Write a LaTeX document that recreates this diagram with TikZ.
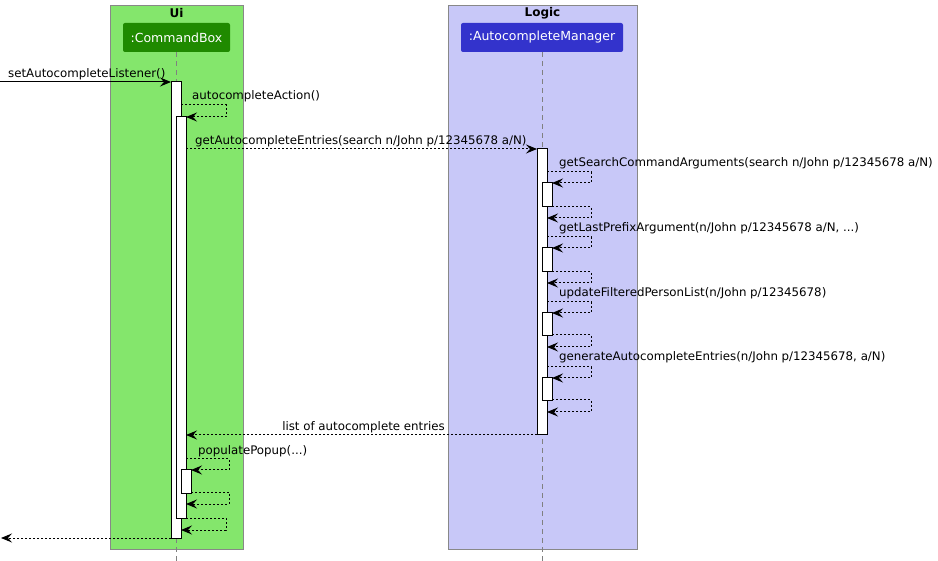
\documentclass[tikz,border=0pt]{standalone}
\usepackage{fontspec}
\setmainfont{DejaVu Sans}
\usetikzlibrary{arrows.meta}
\definecolor{uifill}{HTML}{84E66C}
\definecolor{logicfill}{HTML}{C8C8F8}
\definecolor{framegray}{HTML}{888888}
\definecolor{cbfill}{HTML}{1F8A00}
\definecolor{amfill}{HTML}{3333CC}
\begin{document}
\begin{tikzpicture}[x=1pt,y=-1pt,
  font=\fontsize{11.8}{14}\selectfont,
  frame/.style={draw=framegray,line width=0.8pt},
  frametitle/.style={font=\fontsize{12}{14}\selectfont\bfseries,anchor=center},
  participant/.style={rounded corners=2pt,text=white,font=\fontsize{12.5}{15}\selectfont,
     inner sep=0pt,minimum height=29pt},
  lifeline/.style={draw=gray,line width=0.8pt,dash pattern=on 5pt off 4pt},
  actbar/.style={draw=black,fill=white,line width=1pt},
  tip/.style={-{Stealth[length=11pt,width=9pt,inset=4pt]}},
  call/.style={tip,line width=1pt},
  reply/.style={tip,line width=1pt,dash pattern=on 2pt off 2pt},
  lbl/.style={anchor=base west,inner sep=0pt},
]
\useasboundingbox (0,0) rectangle (938,561);
\fill[white] (0,0) rectangle (938,561);

% package frames
\filldraw[frame,fill=uifill] (110,5) rectangle (243,549);
\filldraw[frame,fill=logicfill] (448,5) rectangle (637,549);
\node[frametitle] (uititle) at (176.5,13) {Ui};
\node[frametitle] (logictitle) at (542.5,13) {Logic};

% participants
\node[participant,fill=cbfill,minimum width=107pt] (cb) at (176.5,37.5) {:CommandBox};
\node[participant,fill=amfill,minimum width=162pt] (am) at (542,37.5) {:AutocompleteManager};

% lifelines
\coordinate (cbend) at (176,561);
\coordinate (amend) at (542,561);
\draw[lifeline] (cb.south -| cbend) -- (cbend);
\draw[lifeline] (am.south -| amend) -- (amend);

% activation bars
\filldraw[actbar] (171,82) rectangle (181,538);
\filldraw[actbar] (176,117) rectangle (186,518);
\filldraw[actbar] (181,470) rectangle (191,493);
\filldraw[actbar] (537,149) rectangle (547,435);
\filldraw[actbar] (542,183) rectangle (552,207);
\filldraw[actbar] (542,248) rectangle (552,272);
\filldraw[actbar] (542,313) rectangle (552,336);
\filldraw[actbar] (542,378) rectangle (552,401);

% message end points
\coordinate (in1) at (0,82);   \coordinate (cbA) at (171,82);
\coordinate (cbB) at (181,105); \coordinate (cbC) at (186,117);
\coordinate (cbD) at (186,149); \coordinate (amA) at (537,149);
\coordinate (s1a) at (547,172); \coordinate (s1b) at (552,183);
\coordinate (s1c) at (552,207); \coordinate (s1d) at (547,218);
\coordinate (s2a) at (547,237); \coordinate (s2b) at (552,248);
\coordinate (s2c) at (552,272); \coordinate (s2d) at (547,283);
\coordinate (s3a) at (547,302); \coordinate (s3b) at (552,313);
\coordinate (s3c) at (552,335); \coordinate (s3d) at (547,347);
\coordinate (s4a) at (547,367); \coordinate (s4b) at (552,378);
\coordinate (s4c) at (552,400); \coordinate (s4d) at (547,412);
\coordinate (amR) at (537,435); \coordinate (cbE) at (186,435);
\coordinate (p1a) at (186,459); \coordinate (p1b) at (191,470);
\coordinate (p1c) at (191,492); \coordinate (p1d) at (186,504);
\coordinate (q1a) at (186,518); \coordinate (q1b) at (181,530);
\coordinate (cbF) at (171,538); \coordinate (out1) at (1,538);

% messages
\draw[call] (in1) -- (cbA);
\node[lbl] (l1) at (8,78) {setAutocompleteListener()};

\draw[reply] (cbB) -- ++(45,0) |- (cbC);
\node[lbl] (l2) at (192,100) {autocompleteAction()};

\draw[reply] (cbD) -- (amA);
\node[lbl] (l3) at (195,145) {getAutocompleteEntries(search n/John p/12345678 a/N)};

\draw[reply] (s1a) -- (591,172) |- (s1b);
\node[lbl] (l4) at (559,167) {getSearchCommandArguments(search n/John p/12345678 a/N)};
\draw[reply] (s1c) -- (591,207) |- (s1d);

\draw[reply] (s2a) -- (591,237) |- (s2b);
\node[lbl] (l5) at (559,232) {getLastPrefixArgument(n/John p/12345678 a/N, ...)};
\draw[reply] (s2c) -- (591,272) |- (s2d);

\draw[reply] (s3a) -- (591,302) |- (s3b);
\node[lbl] (l6) at (559,297) {updateFilteredPersonList(n/John p/12345678)};
\draw[reply] (s3c) -- (591,335) |- (s3d);

\draw[reply] (s4a) -- (591,367) |- (s4b);
\node[lbl] (l7) at (559,361) {generateAutocompleteEntries(n/John p/12345678, a/N)};
\draw[reply] (s4c) -- (591,400) |- (s4d);

\draw[reply] (amR) -- (cbE);
\node[lbl,anchor=base east] (l8) at (445,431) {list of autocomplete entries};

\draw[reply] (p1a) -- (229,459) |- (p1b);
\node[lbl] (l9) at (198,454) {populatePopup(...)};
\draw[reply] (p1c) -- (229,492) |- (p1d);

\draw[reply] (q1a) -- (226,518) |- (q1b);

\draw[reply] (cbF) -- (out1);
\end{tikzpicture}
\end{document}
